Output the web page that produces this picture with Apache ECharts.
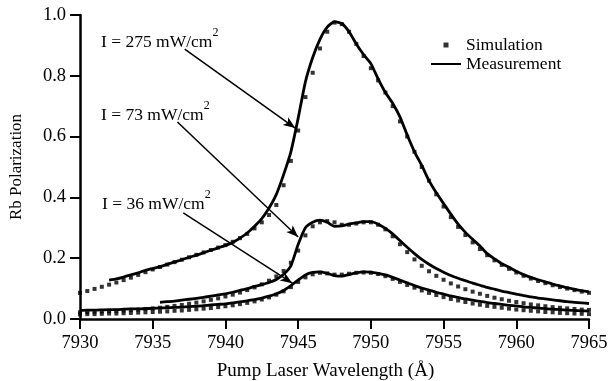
<!DOCTYPE html>
<html>
<head>
<meta charset="utf-8">
<script src="https://cdn.jsdelivr.net/npm/echarts@6/dist/echarts.min.js"></script>
<style>
html, body { margin: 0; padding: 0; background: #fff; }
#main { width: 613px; height: 381px; }
</style>
</head>
<body>
<div id="main"></div>
<script>
var chart = echarts.init(document.getElementById("main"))

// pump wavelength grid (Angstrom), 7930 .. 7965 step 0.5
var wl = [7930, 7930.5, 7931, 7931.5, 7932, 7932.5, 7933, 7933.5, 7934, 7934.5,
          7935, 7935.5, 7936, 7936.5, 7937, 7937.5, 7938, 7938.5, 7939, 7939.5,
          7940, 7940.5, 7941, 7941.5, 7942, 7942.5, 7943, 7943.5, 7944, 7944.5,
          7945, 7945.5, 7946, 7946.5, 7947, 7947.5, 7948, 7948.5, 7949, 7949.5,
          7950, 7950.5, 7951, 7951.5, 7952, 7952.5, 7953, 7953.5, 7954, 7954.5,
          7955, 7955.5, 7956, 7956.5, 7957, 7957.5, 7958, 7958.5, 7959, 7959.5,
          7960, 7960.5, 7961, 7961.5, 7962, 7962.5, 7963, 7963.5, 7964, 7964.5,
          7965]

// measured polarization, 275 mW/cm2 (starts at 7932)
var meas275 = [.128, .132, .138, .145, .152, .160,
               .166, .172, .180, .188, .195, .203, .210, .218, .226, .234,
               .242, .252, .266, .283, .305, .330, .365, .410, .475, .550,
               .660, .780, .860, .920, .960, .978, .972, .945, .905, .870,
               .840, .790, .745, .710, .665, .605, .550, .505, .455, .415,
               .380, .345, .312, .285, .262, .240, .215, .198, .182, .170,
               .157, .146, .137, .129, .122, .115, .109, .103, .098, .093,
               .089]
// measured, 73 mW/cm2 (starts at 7935.5)
var meas73 = [.055, .057, .059, .062, .065, .068, .071, .075, .079,
              .083, .088, .094, .100, .107, .113, .120, .130, .147, .175,
              .245, .300, .318, .325, .318, .305, .306, .312, .316, .320,
              .320, .312, .298, .280, .258, .236, .215, .196, .180, .166,
              .154, .143, .134, .126, .118, .111, .104, .098, .092, .087,
              .082, .077, .073, .069, .066, .063, .060, .057, .055, .053,
              .051]
// measured, 36 mW/cm2
var meas36 = [.028, .029, .029, .030, .031, .031, .032, .033, .033, .034,
              .035, .036, .037, .038, .039, .041, .042, .044, .046, .048,
              .050, .053, .056, .060, .064, .069, .075, .083, .094, .110,
              .128, .145, .153, .155, .150, .143, .141, .146, .152, .155,
              .154, .150, .145, .137, .128, .119, .110, .102, .095, .088,
              .082, .076, .071, .066, .062, .058, .054, .051, .048, .045,
              .043, .040, .038, .036, .034, .032, .031, .029, .028, .027,
              .026]

// simulation, on the full grid
var sim275 = [.086, .092, .099, .106, .113, .120, .128, .136, .145, .154,
              .163, .171, .179, .187, .195, .203, .211, .219, .227, .235,
              .243, .254, .266, .280, .298, .318, .342, .375, .440, .520,
              .620, .730, .810, .890, .945, .975, .970, .945, .905, .865,
              .825, .785, .745, .700, .650, .600, .550, .500, .455, .410,
              .370, .335, .303, .276, .252, .230, .210, .193, .178, .165,
              .153, .142, .133, .125, .118, .111, .105, .100, .095, .090,
              .086]
var sim73 = [.022, .023, .024, .025, .026, .027, .028, .030, .031, .033,
             .035, .037, .040, .043, .046, .050, .054, .058, .063, .068,
             .074, .080, .087, .095, .104, .114, .126, .140, .158, .185,
             .225, .275, .305, .318, .322, .318, .310, .310, .314, .318,
             .318, .310, .295, .272, .246, .220, .196, .175, .157, .142,
             .129, .117, .107, .098, .090, .083, .076, .070, .065, .060,
             .056, .052, .048, .045, .042, .039, .037, .035, .033, .031,
             .030]
var sim36 = [.015, .016, .016, .017, .018, .018, .019, .020, .021, .022,
             .023, .024, .025, .027, .028, .030, .032, .034, .036, .039,
             .042, .045, .049, .053, .058, .064, .071, .080, .091, .105,
             .122, .137, .147, .152, .150, .146, .146, .149, .152, .153,
             .152, .148, .141, .132, .122, .112, .103, .094, .086, .079,
             .072, .066, .061, .056, .051, .047, .043, .040, .037, .034,
             .031, .029, .027, .025, .023, .022, .020, .019, .018, .017,
             .016]

var xTicks = [7930, 7935, 7940, 7945, 7950, 7955, 7960, 7965]
var labels = ["I = 275 mW/cm", "I = 73 mW/cm", "I = 36 mW/cm"]
// arrows from each label to its curve, in data units [x1, y1, x2, y2]
var arrows = [[7937.2, 0.888, 7944.8, 0.628],
              [7936.7, 0.648, 7945.0, 0.270],
              [7937.1, 0.349, 7944.6, 0.118]]

var serif = "Liberation Serif"

function pairs(xs, ys){
	var out = []
	for(var i=0;i<ys.length;i++){
		out.push([xs[i], ys[i]])
	}
	return out
}

function measLine(xs, ys){
	return {
		name: "Measurement",
		type: "line",
		data: pairs(xs, ys),
		symbol: "none",
		showSymbol: false,
		smooth: 0.2,
		lineStyle: { color: "#000", width: 2.8 },
		itemStyle: { color: "#000" },
		z: 3
	}
}
function simDots(ys){
	return {
		name: "Simulation",
		type: "scatter",
		data: pairs(wl, ys),
		symbol: "rect",
		symbolSize: 4,
		itemStyle: { color: "#000" },
		z: 4
	}
}

var arrowData = arrows.map(function(a){
	return [{ coord: [a[0], a[1]] }, { coord: [a[2], a[3]] }]
})

var m275 = measLine(wl.slice(4), meas275)
m275.markLine = {
	silent: true,
	symbol: ["none", "arrow"],
	symbolSize: [7, 12],
	label: { show: false },
	lineStyle: { color: "#000", width: 1.5, type: "solid" },
	emphasis: { disabled: true },
	data: arrowData
}

var labelPos = [[101, 42], [101, 115], [102, 204]]
var graphics = labels.map(function(t, i){
	return {
		type: "text",
		x: labelPos[i][0],
		y: labelPos[i][1],
		style: {
			text: "{a|" + t + "}{s|2}",
			verticalAlign: "middle",
			rich: {
				a: { fontFamily: serif, fontSize: 17.5, color: "#000", lineHeight: 30 },
				s: { fontFamily: serif, fontSize: 12, color: "#000", lineHeight: 12, verticalAlign: "top" }
			}
		}
	}
})

option = {
	animation: false,
	backgroundColor: "#fff",
	grid: { left: 80, right: 24, top: 15, bottom: 62, outerBoundsMode: "none" },
	legend: {
		orient: "vertical",
		left: 426,
		top: 31,
		itemWidth: 30,
		itemHeight: 5,
		itemGap: 1,
		selectedMode: false,
		data: [
			{ name: "Simulation", icon: "path://M0,0L10,0L10,10L0,10Z" },
			{ name: "Measurement", icon: "path://M0,0L30,0L30,2L0,2Z" }
		],
		textStyle: { fontFamily: serif, fontSize: 17.5, color: "#000" }
	},
	xAxis: {
		type: "value",
		min: 7930,
		max: 7965,
		interval: 5,
		name: "Pump Laser Wavelength (\u00c5)",
		nameLocation: "middle",
		nameGap: 43,
		nameTextStyle: { fontFamily: serif, fontSize: 19, color: "#000", padding: [0, 18, 0, 0] },
		axisLine: { lineStyle: { color: "#000", width: 2.5 } },
		axisTick: { length: 10, lineStyle: { color: "#000", width: 2 } },
		axisLabel: { margin: 15, fontFamily: serif, fontSize: 18.5, color: "#000",
			formatter: function(v){ return xTicks.indexOf(v) >= 0 ? String(v) : "" } },
		splitLine: { show: false }
	},
	yAxis: {
		type: "value",
		min: 0,
		max: 1,
		interval: 0.2,
		name: "Rb Polarization",
		nameLocation: "middle",
		nameGap: 55,
		nameTextStyle: { fontFamily: serif, fontSize: 17, color: "#000" },
		axisLine: { show: true, lineStyle: { color: "#000", width: 2.5 } },
		axisTick: { show: true, length: 10, lineStyle: { color: "#000", width: 2 } },
		axisLabel: { margin: 14, fontFamily: serif, fontSize: 18.5, color: "#000",
			formatter: function(v){ return v.toFixed(1) } },
		splitLine: { show: false }
	},
	graphic: graphics,
	series: [
		m275,
		measLine(wl.slice(11), meas73),
		measLine(wl, meas36),
		simDots(sim275),
		simDots(sim73),
		simDots(sim36)
	]
}

chart.setOption(option)
</script>
</body>
</html>
